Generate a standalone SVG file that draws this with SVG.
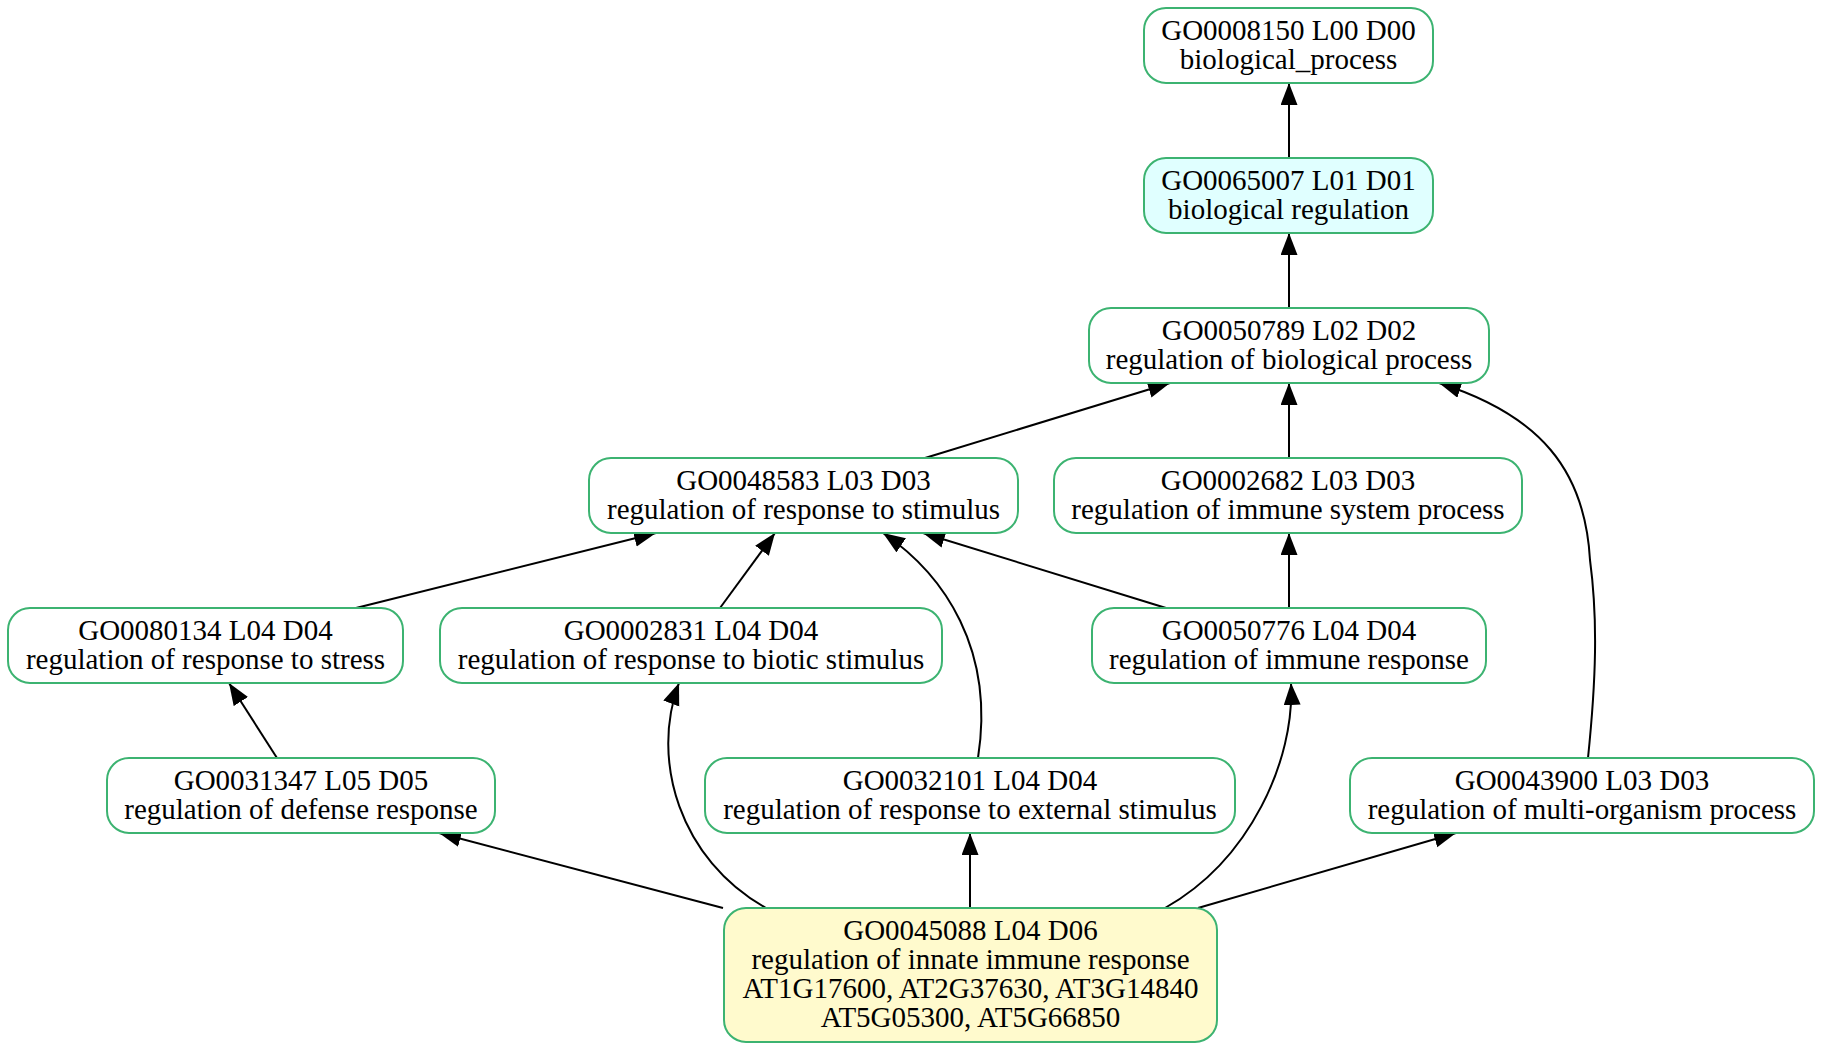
<svg xmlns="http://www.w3.org/2000/svg" width="1823" height="1050" viewBox="0 0 1823 1050">
<style>
.n{fill:#ffffff;stroke:#3cb371;stroke-width:2}
.t{font-family:"Liberation Serif","Times New Roman",serif;font-size:29px;fill:#000;text-anchor:middle}
.e{fill:none;stroke:#000;stroke-width:2}
</style>
<defs>
<marker id="ah" markerUnits="userSpaceOnUse" markerWidth="23" markerHeight="18" refX="22" refY="8.5" orient="auto">
<path d="M0,0 L22,8.5 L0,17 z" fill="#000"/>
</marker>
</defs>
<rect width="1823" height="1050" fill="#ffffff"/>
<g id="edges">
<path class="e" marker-end="url(#ah)" d="M1289,158 L1289,83"/>
<path class="e" marker-end="url(#ah)" d="M1289,308 L1289,233"/>
<path class="e" marker-end="url(#ah)" d="M925,458 L1170,383"/>
<path class="e" marker-end="url(#ah)" d="M1289,458 L1289,383"/>
<path class="e" marker-end="url(#ah)" d="M356,608 L656,533"/>
<path class="e" marker-end="url(#ah)" d="M720,608 L775,533"/>
<path class="e" marker-end="url(#ah)" d="M1166,608 L923,533"/>
<path class="e" marker-end="url(#ah)" d="M1289,608 L1289,533"/>
<path class="e" marker-end="url(#ah)" d="M978,758 C995,650 945,575 883,533"/>
<path class="e" marker-end="url(#ah)" d="M277,758 L229,683"/>
<path class="e" marker-end="url(#ah)" d="M1588,758 C1596,680 1598,620 1590,560 C1585,470 1540,415 1439,383"/>
<path class="e" marker-end="url(#ah)" d="M723,908 L439,833"/>
<path class="e" marker-end="url(#ah)" d="M766,908 C680,860 650,760 679,683"/>
<path class="e" marker-end="url(#ah)" d="M970,908 L970,833"/>
<path class="e" marker-end="url(#ah)" d="M1165,908 C1250,860 1295,760 1291,683"/>
<path class="e" marker-end="url(#ah)" d="M1198,908 L1456,833"/>
</g>
<g id="GO0008150">
<rect class="n" x="1144" y="8" width="289" height="75" rx="22"/>
<text class="t" x="1288.5" y="39.5">GO0008150 L00 D00</text>
<text class="t" x="1288.5" y="68.5">biological_process</text>
</g>
<g id="GO0065007">
<rect class="n" x="1144" y="158" width="289" height="75" rx="22" style="fill:#e0ffff"/>
<text class="t" x="1288.5" y="189.5">GO0065007 L01 D01</text>
<text class="t" x="1288.5" y="218.5">biological regulation</text>
</g>
<g id="GO0050789">
<rect class="n" x="1089" y="308" width="400" height="75" rx="22"/>
<text class="t" x="1289" y="339.5">GO0050789 L02 D02</text>
<text class="t" x="1289" y="368.5">regulation of biological process</text>
</g>
<g id="GO0048583">
<rect class="n" x="589" y="458" width="429" height="75" rx="22"/>
<text class="t" x="803.5" y="489.5">GO0048583 L03 D03</text>
<text class="t" x="803.5" y="518.5">regulation of response to stimulus</text>
</g>
<g id="GO0002682">
<rect class="n" x="1054" y="458" width="468" height="75" rx="22"/>
<text class="t" x="1288" y="489.5">GO0002682 L03 D03</text>
<text class="t" x="1288" y="518.5">regulation of immune system process</text>
</g>
<g id="GO0080134">
<rect class="n" x="8" y="608" width="395" height="75" rx="22"/>
<text class="t" x="205.5" y="639.5">GO0080134 L04 D04</text>
<text class="t" x="205.5" y="668.5">regulation of response to stress</text>
</g>
<g id="GO0002831">
<rect class="n" x="440" y="608" width="502" height="75" rx="22"/>
<text class="t" x="691" y="639.5">GO0002831 L04 D04</text>
<text class="t" x="691" y="668.5">regulation of response to biotic stimulus</text>
</g>
<g id="GO0050776">
<rect class="n" x="1092" y="608" width="394" height="75" rx="22"/>
<text class="t" x="1289" y="639.5">GO0050776 L04 D04</text>
<text class="t" x="1289" y="668.5">regulation of immune response</text>
</g>
<g id="GO0031347">
<rect class="n" x="107" y="758" width="388" height="75" rx="22"/>
<text class="t" x="301" y="789.5">GO0031347 L05 D05</text>
<text class="t" x="301" y="818.5">regulation of defense response</text>
</g>
<g id="GO0032101">
<rect class="n" x="705" y="758" width="530" height="75" rx="22"/>
<text class="t" x="970" y="789.5">GO0032101 L04 D04</text>
<text class="t" x="970" y="818.5">regulation of response to external stimulus</text>
</g>
<g id="GO0043900">
<rect class="n" x="1350" y="758" width="464" height="75" rx="22"/>
<text class="t" x="1582" y="789.5">GO0043900 L03 D03</text>
<text class="t" x="1582" y="818.5">regulation of multi-organism process</text>
</g>
<g id="GO0045088">
<rect class="n" x="724" y="908" width="493" height="134" rx="22" style="fill:#fffacd"/>
<text class="t" x="970.5" y="940">GO0045088 L04 D06</text>
<text class="t" x="970.5" y="969">regulation of innate immune response</text>
<text class="t" x="970.5" y="998">AT1G17600, AT2G37630, AT3G14840</text>
<text class="t" x="970.5" y="1027">AT5G05300, AT5G66850</text>
</g>
</svg>
